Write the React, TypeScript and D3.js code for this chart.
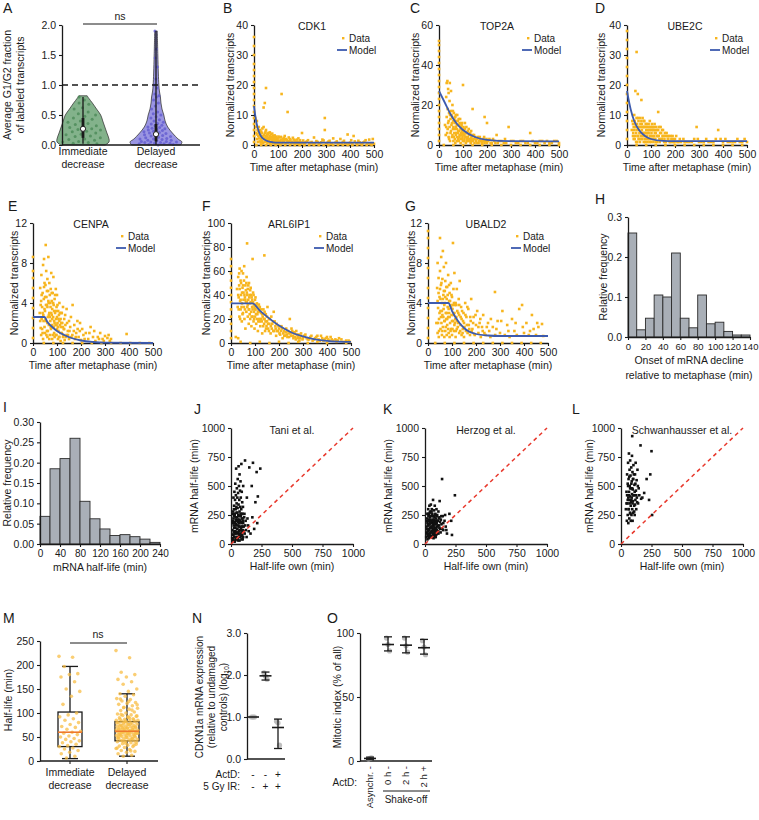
import React, { useEffect, useRef } from "react";
import * as d3 from "d3";

const FONT = "'Liberation Sans', Arial, Helvetica, sans-serif";
const ORANGE = "#f7b51e";
const BLUE = "#3c5aae";
const BAR_GREY = "#a9afb7";
const INK = "#1a1a1a";

const pts = (s: string) =>
  s.trim().split(/\s+/).map((p) => p.split(",").map(Number));

// ---------- A: G1/G2 fraction of labeled transcripts ----------
const violinGroups = ["Immediate decrease", "Delayed decrease"];
const immediateFractions = [0.8, 0.75, 0.7, 0.68, 0.62, 0.6, 0.55, 0.52, 0.5, 0.48, 0.45, 0.43, 0.4, 0.38, 0.36, 0.34, 0.32, 0.3, 0.29, 0.27, 0.26, 0.25, 0.23, 0.22, 0.2, 0.18, 0.17, 0.15, 0.14, 0.12, 0.1, 0.09, 0.08, 0.06, 0.05, 0.04, 0.03, 0.02];
const delayedFractions = [1.9, 1.6, 1.45, 1.3, 1.1, 1.0, 0.95, 0.85, 0.82, 0.8, 0.75, 0.7, 0.65, 0.6, 0.55, 0.52, 0.5, 0.47, 0.45, 0.42, 0.4, 0.38, 0.36, 0.35, 0.33, 0.32, 0.3, 0.29, 0.28, 0.27, 0.26, 0.25, 0.24, 0.23, 0.22, 0.21, 0.2, 0.19, 0.18, 0.17, 0.16, 0.15, 0.14, 0.13, 0.12, 0.11, 0.1, 0.1, 0.09, 0.08, 0.08, 0.07, 0.06, 0.06, 0.05, 0.05, 0.04, 0.04, 0.03, 0.03, 0.02, 0.02, 0.01, 0.01, 0.0];
// violin outlines: [value, relative half-width]
const immediateOutline = [[0, 0.85], [0.05, 1], [0.1, 1], [0.2, 0.92], [0.3, 0.84], [0.4, 0.76], [0.5, 0.68], [0.6, 0.52], [0.7, 0.36], [0.78, 0.22], [0.82, 0.16]];
const delayedOutline = [[0, 0.94], [0.05, 1], [0.1, 0.85], [0.2, 0.63], [0.3, 0.45], [0.4, 0.35], [0.5, 0.3], [0.6, 0.23], [0.7, 0.19], [0.8, 0.17], [0.9, 0.13], [1, 0.11], [1.2, 0.09], [1.5, 0.07], [1.9, 0.05]];
// [min, q1, median, q3, max]
const immediateStats = [0.02, 0.12, 0.27, 0.45, 0.8];
const delayedStats = [0, 0.06, 0.18, 0.35, 1.9];

// ---------- B-G: transcripts after metaphase ----------
const timeTicks = [0, 100, 200, 300, 400, 500];
const geneNames = ["CDK1", "TOP2A", "UBE2C", "CENPA", "ARL6IP1", "UBALD2"];
const geneYMax = [40, 60, 40, 12, 100, 12];
const geneYTicks = [[0, 10, 20, 30, 40], [0, 20, 40, 60], [0, 10, 20, 30, 40], [0, 4, 8, 12], [0, 20, 40, 60, 80, 100], [0, 4, 8, 12]];

const cdk1Data = pts(`0,1 0,3 0,5 0,7 0,9 0,11 0,13 0,15 0,17 0,19 0,21 0,23 0,25 0,27 0,30 0,33 0,36
5,9 8,6 10,4 12,8 15,5 18,3 20,6 22,4 25,5 28,3 30,4.5 32,2.5 35,5.5 38,3 40,6 40,12.5 42,2 45,4 45,14 48,3 50,5 50,19 52,2 55,3.5 58,2 60,4 62,1.5 65,3 68,2 70,3.5 72,1 75,2.5 78,1.5 80,3 82,1 85,2 88,0.5 90,2.5 92,1.2 95,2 98,0.8 100,1.5 102,2.8 105,2.5 108,1 110,1.5 112,2.7 115,17 118,0.6 120,2 125,1 128,3 130,1.8 135,0.7 140,11 140,1.2 145,2.5 150,2 155,0.5 160,1 165,1.8 170,1.5 175,0.6 180,1 185,2.2 190,1.2 195,0.4 200,0.8 200,4 205,1.5 210,0.5 220,1.2 230,0.4 240,1 250,2.5 255,0.6 260,1.3 270,0.3 280,0.9 290,1.5 295,9 295,5 300,0.5 310,1.1 320,0.3 330,2.2 340,0.8 350,0.4 360,2 370,1 380,0.5 390,3.5 400,0.8 410,0.3 415,3 420,1.2 430,0.4 440,0.9 450,0.5 460,1.1 470,0.3 480,1.8 490,0.6 495,2 500,0.4
10,0 30,0 50,0 70,0 90,0 110,0 130,0 150,0 170,0 190,0 210,0 230,0 250,0 270,0 290,0 310,0 330,0 350,0 370,0 390,0 410,0 430,0 450,0 470,0 490,0
12,2 14,3.5 16,1 18,4.8 22,2.2 24,1.2 26,3.2 28,0.8 30,2 32,4 34,1.4 36,2.6 38,0.6 42,3.4 44,1 46,2.2 48,4.4 52,1.2 54,2.8 56,0.6 58,3.6 62,2.4 64,1 66,4.2 68,0.4 72,2.6 74,1.8 76,3.8 78,0.6 82,2.4 84,1.2 86,3.2 88,1.6 92,2.8 94,0.4 96,1.6 98,2.2 104,1.2 106,0.4 114,1.8 116,0.8 122,1.4 124,2.4 132,0.6 134,2 138,1.6 142,0.8 148,1.2 152,1.6 158,0.8 162,2.4 168,0.6 172,1 178,1.8 182,0.4 188,0.8 192,1.6 198,0.6 215,0.9 225,1.6 235,0.7 245,0.3 265,1 275,0.5 285,1.8 305,0.7 315,1.4 325,0.5 345,1.2 355,0.6 365,0.4 375,1.4 385,0.6 395,0.3 405,1.6 425,0.6 435,1.4 445,0.3 455,0.8 465,1.6 475,0.6 485,0.3`);
const cdk1Model = [[0, 13], [10, 7.5], [20, 4.5], [30, 2.8], [40, 2], [60, 1.2], [80, 0.9], [100, 0.8], [500, 0.8]];

const top2aData = pts(`0,2 0,5 0,8 0,11 0,14 0,17 0,20 0,23 0,26 0,29 0,32 0,35 0,38 0,41 0,44 0,47 0,50 0,52
25,10 28,5 30,24 32,31 35,32 36,8 38,28 40,26 40,12 42,3 44,22 45,31 46,15 48,6 50,27 50,17 52,10 54,4 55,14 56,20 58,8 60,12 60,2 62,16 64,6 65,11 66,3 68,14 70,9 70,5 72,12 74,2 75,8 76,15 78,6 80,10 80,3 82,13 84,7 85,4 86,11 88,5 90,8 90,1 92,6 94,10 95,3 96,7 98,4 100,30 100,6 102,9 105,2 106,5 108,8 110,4 112,1 115,6 118,3 120,7 122,2 125,5 128,3 130,6 132,1 135,4 138,2 140,18 140,5 145,3 148,1 150,4 155,2 160,3 165,1 170,4 175,2 180,1 185,3 190,14 190,1 195,2 200,11 200,1 210,3 220,1 230,2 240,5 245,1 260,2 280,1 290,9 300,2 320,1 340,2 360,1 380,6 390,2 400,1 420,2 440,1 460,1 480,2 500,1
20,0 60,0 100,0 140,0 180,0 220,0 260,0 300,0 340,0 380,0 420,0 460,0 500,0
30,9 32,14 34,6 36,18 38,11 40,4 42,16 44,9 46,2 48,13 50,7 52,15 54,11 56,5 58,17 60,9 62,4 64,13 66,8 68,1 70,15 72,6 74,10 76,4 78,12 80,7 82,2 84,10 86,5 88,13 90,3 92,9 94,5 96,11 98,7 100,2 102,5 104,8 106,3 108,11 110,6 112,4 114,9 116,2 118,6 120,4 124,8 126,3 130,2 134,7 136,3 142,2 146,5 152,3 158,1 162,4 168,2 172,3 178,1 182,2 188,4 192,2 198,3 205,2 215,1 225,3 235,1 250,2 270,1 275,3 310,2 330,1 350,2 370,1 410,1 430,2 450,2 470,1 490,2`);
const top2aModel = [[0, 27], [25, 21], [50, 15], [75, 10.5], [100, 7.5], [150, 4], [200, 2.6], [300, 1.9], [500, 1.8]];

const ube2cData = pts(`0,2 0,5 0,8 0,11 0,14 0,17 0,20 0,23 0,26 0,29 0,32 0,35 0,38
20,5 22,8 25,3 28,6 30,10 32,2 35,18 35,7 38,4 40,31 40,9 42,1 44,6 45,17 46,3 48,8 50,5 52,2 54,9 55,4 58,6 60,15 60,2 62,7 64,4 65,9 68,3 70,6 70,1 72,8 74,4 75,2 78,7 80,5 82,3 84,6 85,1 88,4 90,7 92,2 94,5 95,8 98,3 100,5 100,1 102,4 105,6 108,2 110,5 112,3 115,7 118,2 120,4 122,6 125,1 128,3 130,11 130,5 135,2 138,4 140,6 145,2 148,3 150,5 155,1 160,3 165,4 170,2 175,3 180,1 185,2 190,3 195,1 200,2 210,1 220,2 240,1 260,1 280,2 290,6 295,2 300,1 320,1 340,1 360,1 380,5 390,2 400,1 420,1 440,1 460,2 480,1 500,1
40,0 80,0 120,0 160,0 200,0 240,0 280,0 320,0 360,0 400,0 440,0 480,0
25,7 26,4 28,2 30,5 32,8 34,3 36,6 38,1 40,5 42,7 44,3 46,9 48,2 50,6 52,4 54,1 56,7 58,3 60,8 62,5 64,2 66,6 68,4 70,8 72,3 74,6 76,1 78,4 80,2 82,7 84,3 86,5 88,2 90,4 92,6 94,1 96,3 98,6 102,2 104,7 106,3 108,5 110,1 112,6 114,2 116,4 118,5 120,1 124,3 126,5 132,3 134,6 136,1 142,4 144,2 146,5 152,3 156,2 158,4 162,1 168,3 172,2 178,1 182,3 188,1 192,2 198,1 205,3 215,1 225,1 235,2 250,1 270,1 310,1 330,2 350,1 370,2 410,2 430,1 450,1 470,1 490,2`);
const ube2cModel = [[0, 18], [15, 12], [30, 8], [50, 5], [75, 3], [100, 2], [150, 1.4], [200, 1.3], [500, 1.3]];

const cenpaData = pts(`0,0.5 0,1.5 0,2.5 0,3.5 0,4.5 0,5.5 0,6.5 0,7.2 0,8.6
28,3 30,5.5 32,1.5 34,4.2 35,6.8 36,2.4 38,3.6 40,5 40,1 42,7.8 43,2.8 45,4.4 46,8.4 48,6 48,1.6 50,3.2 52,5.8 53,9.8 54,2.2 55,7.2 56,4.6 58,1.2 58,3.8 60,6.4 60,0.6 62,2.6 63,5.2 64,8.6 65,4 66,1.8 68,3 68,6 70,0.8 70,4.8 72,2.2 73,3.6 74,5.4 75,1.4 76,7 78,2.8 78,4.2 80,0.4 80,3.4 82,5 83,1.6 84,2.6 85,6.6 86,3.8 88,1 88,2.2 90,4.4 90,0.6 92,3 94,1.8 95,5.4 96,2.4 98,0.8 98,3.6 100,1.4 100,4.8 102,2 104,0.4 105,3.2 106,1.2 108,2.8 110,0.6 110,4 112,1.8 115,2.4 115,0.2 118,3 120,1 122,2 125,0.6 125,3.6 128,1.4 130,2.4 132,0.3 135,1.8 140,3.4 140,0.8 145,1.2 150,2.2 150,0.4 155,1.6 160,0.6 165,3.8 170,1.2 175,0.4 180,1 185,2.2 190,0.6 195,1.2 200,0.3 205,1.4 210,0.8 220,1 230,0.4 240,1.6 250,0.6 260,0.2 270,0.6 280,1 290,0.4 300,0.7 310,0.5 320,0.2 390,0.9
45,0 85,0 125,0 165,0 205,0 245,0 285,0 325,0 365,0 405,0 445,0 485,0
30,2.2 32,3.8 34,0.8 36,4.8 38,1.4 40,3 42,0.4 44,2.2 46,5.6 48,3.4 50,1 50,4.6 52,2.4 54,3.8 56,0.8 58,5.2 60,2 60,3.6 62,1.2 64,4.2 66,2.8 68,0.4 70,2.6 72,4 74,1.6 76,3 78,5 80,1.8 80,2.4 82,0.8 84,4 86,1.6 88,3.2 90,2 92,4.8 94,0.8 96,3.2 98,1.8 100,2.6 102,3.8 104,1.6 106,2.4 108,0.6 110,2.2 112,3 114,1 116,1.6 118,2 120,3 124,1.6 126,0.8 130,1.4 134,2.8 136,0.6 142,2 146,0.8 152,1.2 158,2.6 164,0.8 172,1.8 178,0.6 186,1.4 196,2 215,0.4 235,1 255,1.2 275,0.4 295,0.2 315,0.8 325,0.4`);
const cenpaModel = [[0, 2.6], [48, 2.6], [60, 2.1], [80, 1.6], [100, 1.2], [130, 0.8], [160, 0.5], [200, 0.25], [250, 0.1], [300, 0.03], [500, 0]];

const arl6ip1Data = pts(`0,4 0,10 0,16 0,22 0,28 0,34 0,40 0,46 0,52 0,58 0,64 0,70
20,5 25,45 28,30 30,55 30,4 32,38 34,48 35,22 36,62 38,35 40,52 40,28 42,40 44,60 45,18 46,33 48,46 50,25 50,58 52,42 54,30 55,64 56,20 58,38 60,48 60,12 62,34 64,26 65,55 66,42 67,83 68,30 70,22 70,45 72,36 74,16 75,50 76,28 78,40 80,20 80,33 82,46 84,26 85,14 86,38 88,30 90,70 90,22 92,42 94,18 95,32 96,26 98,12 100,36 100,22 102,28 105,16 108,33 110,24 112,10 115,28 118,20 120,30 122,14 125,25 128,18 130,8 132,22 135,28 138,16 139,73 140,20 142,10 145,24 148,14 150,18 152,30 155,12 158,20 160,16 165,8 168,22 170,12 175,18 178,26 180,10 185,14 188,6 190,16 195,10 200,12 205,7 210,14 215,4 220,10 225,6 230,12 235,5 240,8 245,20 250,6 255,10 260,4 265,8 270,3 275,7 280,5 285,2 290,6 300,4 310,7 320,3 330,5 340,2 350,4 360,6 370,2 380,4 390,3 400,5 410,2 420,3 440,2 450,4 470,1 490,2
40,1 80,0 120,1 160,0 200,1 240,0 280,1 320,0 360,1 400,0 440,1 480,0
30,40 32,28 34,58 36,45 38,20 40,36 42,50 44,30 46,42 48,24 50,48 52,36 54,52 56,40 58,28 60,36 62,44 64,50 66,34 68,40 70,32 72,48 74,28 76,38 78,24 80,44 82,34 84,40 86,22 88,36 90,28 92,34 94,40 96,20 98,30 100,28 102,38 104,24 106,32 108,20 110,30 112,26 114,18 116,32 118,26 120,18 124,20 126,28 130,24 134,14 136,20 140,26 144,18 146,12 150,22 154,16 158,10 162,20 166,14 172,16 176,10 182,18 186,12 192,10 198,14 202,8 208,10 212,12 218,8 222,6 228,9 232,7 238,10 242,5 248,8 252,12 258,6 262,9 268,5 272,10 278,4 282,7 288,4 292,8 298,3 305,6 315,4 325,3 335,6 345,3 355,5 365,3 375,6 385,2 395,4 405,3 415,5 425,2 435,3 445,2 460,3 480,2 495,1`);
const arl6ip1Model = [[0, 33], [90, 33], [120, 27], [150, 22], [200, 14.5], [250, 9], [300, 5.5], [350, 3], [400, 1.8], [450, 1.2], [500, 1]];

const ubald2Data = pts(`0,0.5 0,1.5 0,2.5 0,3.5 0,4.5 0,5.5 0,6.5 0,7.5 0,8.5 0,9.5 0,10.5 0,11.2
35,2 38,5.5 40,1 40,8 42,3.5 44,6.5 45,0.6 46,2.4 48,4.6 50,10.5 50,7.2 52,1.4 52,3.2 54,5.8 55,8.6 56,2 58,4 58,0.8 60,6.4 60,2.8 62,9.2 62,1.6 64,4.8 65,3.4 66,7.6 68,0.6 68,2.2 70,5.2 70,4 72,1.2 72,6.2 74,3 75,8 76,2.4 78,4.4 78,0.8 80,5.6 80,1.8 82,3.6 84,6.8 84,2.6 86,1 88,4.2 88,3 90,5 90,0.6 92,2 94,3.8 95,6 96,1.4 98,2.8 100,4.6 100,0.8 102,3.4 104,10 105,2.2 106,5.4 108,1.2 110,3 110,7 112,2 115,4 115,0.6 118,2.6 120,5.4 120,1.4 122,3.2 125,2 128,4.4 130,1 130,2.8 132,6.2 135,1.8 138,3.6 140,0.8 140,2.4 145,1.4 148,3 150,2 150,0.6 155,4 158,1.2 160,2.6 165,1 168,3.4 170,1.8 175,0.8 178,2.2 180,4.4 185,1.4 190,2.6 195,0.8 200,1.8 205,3.2 210,1 215,2 220,0.6 225,1.6 230,2.8 235,1 240,0.8 250,2 255,1.2 260,0.6 270,1.6 279,5.1 280,0.8 290,2.2 300,1 310,3.2 320,0.8 330,1.8 340,0.6 350,2.4 360,1.2 370,0.8 380,3.4 392,3.8 400,1 410,2 420,0.8 433,2.8 440,1.4 450,0.8 460,1.6 475,1.9 480,0.7
30,0 70,0 110,0 150,0 190,0 230,0 270,0 310,0 350,0 390,0 430,0 470,0
40,4.2 42,2 44,5 46,1.2 48,3 50,5.4 52,4.4 54,2.6 56,6 58,3.2 60,1.2 62,4.4 64,2.6 66,5.2 68,3.8 70,2.2 72,4.6 74,1.6 76,5.6 78,3 80,2.4 82,4.8 84,1.4 86,3.4 88,5.8 90,2.6 92,4.2 94,1.2 96,3.6 98,4.8 100,2.2 102,1.4 104,3.8 106,2.8 108,4 110,1.8 112,3.8 114,2.4 116,1.2 118,3.8 120,2.2 124,1.6 126,3 130,3.8 134,1.2 136,2.6 142,3.2 144,1 146,2.2 152,1.6 156,2.8 162,1.8 164,3.6 172,1.4 176,2.6 182,1.2 188,2 192,0.9 198,2.8 210,1.6 218,2.4 228,1.2 245,1.6 262,2.4 285,1.4 305,2.2 335,1.2 365,2 395,1.6 425,1.2 455,2`);
const ubald2Model = [[0, 4], [85, 4], [100, 3.2], [125, 2.2], [150, 1.5], [200, 0.9], [250, 0.75], [300, 0.7], [500, 0.7]];

const geneData = [cdk1Data, top2aData, ube2cData, cenpaData, arl6ip1Data, ubald2Data];
const geneModels = [cdk1Model, top2aModel, ube2cModel, cenpaModel, arl6ip1Model, ubald2Model];

// ---------- H, I: histograms ----------
const onsetFreq = [0.26, 0.018, 0.047, 0.105, 0.1, 0.21, 0.047, 0.023, 0.105, 0.033, 0.037, 0.014, 0.005, 0.005];
const onsetTicks = [0, 20, 40, 60, 80, 100, 120, 140];
const halfLifeFreq = [0.068, 0.185, 0.21, 0.26, 0.105, 0.062, 0.037, 0.021, 0.023, 0.018, 0.012, 0.004];
const halfLifeTicks = [0, 40, 80, 120, 160, 200, 240];

// ---------- J-L: own half-life vs published ----------
const studyNames = ["Tani et al.", "Herzog et al.", "Schwanhausser et al."];
const compareTicks = [0, 250, 500, 750, 1000];
const taniData = pts(`10,50 12,120 15,200 15,30 18,280 20,80 20,400 22,160 24,240 25,60 25,330 28,110 28,450 30,180 30,20 32,260 33,380 35,90 35,520 36,140 38,300 40,210 40,40 40,420 42,650 44,170 45,270 45,100 46,350 48,480 50,60 50,230 52,130 52,400 54,310 55,560 56,190 58,90 58,440 60,250 60,30 62,670 62,340 64,150 65,500 66,210 68,80 68,380 70,280 70,600 72,120 74,460 75,200 76,320 78,60 78,540 80,240 80,400 82,140 84,300 85,690 86,180 88,100 88,450 90,260 92,360 94,150 95,220 96,40 98,320 100,180 100,500 105,110 110,260 115,720 120,200 130,400 140,160 150,660 160,90 170,500 175,230 180,700 190,130 200,360 210,620 215,180 220,410 240,650
12,80 14,180 16,260 18,40 20,220 22,100 24,300 26,140 28,60 30,250 32,190 34,30 36,110 38,230 40,160 42,90 44,320 46,60 48,200 50,130 52,270 54,40 56,100 58,210 60,160 62,60 64,240 66,110 68,180 70,30 72,200 74,90 76,150 78,260 80,70 82,190 84,120 86,40 88,220 90,150 92,80 94,260 96,120 98,200 100,60 104,150 108,230 112,90 116,160 122,120 128,60 135,220 145,110`);
const herzogData = pts(`10,60 12,150 15,100 18,220 20,40 20,180 22,120 24,260 25,80 26,300 28,160 30,50 30,210 32,130 34,250 35,90 36,330 38,170 40,60 40,230 42,140 44,280 45,100 46,190 48,340 50,70 50,240 52,150 54,200 55,110 56,300 58,180 60,60 60,260 62,130 64,210 65,90 66,380 68,160 70,240 70,50 72,120 74,290 75,190 76,80 78,230 80,140 80,330 82,200 84,100 85,260 86,170 88,60 90,220 92,130 94,300 95,180 98,90 100,250 100,150 105,200 108,110 110,280 115,160 118,230 120,370 125,130 130,210 135,170 140,560 145,240 150,120 160,200 170,150 180,90 200,260 215,200 221,78 245,420
14,90 16,200 18,130 20,260 22,70 24,160 26,110 28,240 30,170 32,80 34,200 36,120 38,270 40,180 42,90 44,210 46,140 48,60 50,190 52,100 54,280 56,150 58,60 60,200 62,110 64,170 66,240 68,80 70,150 72,210 74,100 76,180 78,130 80,60 82,250 84,170 86,110 88,200 90,140 92,80 94,180 96,240 98,120 102,200 106,160 110,90 114,220 118,140 124,190 128,100 134,240 142,130 150,180 165,250 175,120`);
const schwanData = pts(`40,300 45,450 48,200 50,600 52,350 55,520 55,250 58,700 60,400 60,180 62,560 64,300 65,780 66,450 68,220 70,640 70,350 72,500 74,270 75,720 76,410 78,590 80,330 80,200 82,480 84,660 85,380 86,250 88,540 90,430 90,760 92,300 92,930 94,620 95,200 96,470 98,370 100,560 100,270 102,680 105,420 108,330 110,510 112,250 115,600 118,380 120,700 122,460 125,300 128,550 130,400 135,640 140,350 145,480 150,420 160,850 165,390 175,400 190,440 210,560 230,380 240,600 250,800 255,250
45,350 50,420 55,380 58,500 62,300 65,420 68,580 72,380 75,480 78,260 82,360 85,520 88,400 92,480 95,350 98,560 102,420 105,600 108,280 112,450 115,340 118,520 125,420 132,360 138,500`);
const compareData = [taniData, herzogData, schwanData];

// ---------- M: half-life per group ----------
const immediateHalfLife = [218, 216, 197, 182, 180, 175, 165, 150, 145, 135, 118, 100, 96, 92, 88, 85, 80, 76, 72, 70, 66, 62, 60, 58, 55, 52, 50, 47, 45, 42, 40, 38, 35, 32, 30, 27, 25, 22, 18, 15, 10, 6];
const delayedHalfLife = [230, 215, 185, 180, 175, 170, 165, 160, 150, 145, 140, 138, 135, 130, 128, 125, 122, 120, 118, 115, 112, 110, 108, 105, 102, 100, 98, 96, 95, 93, 92, 90, 88, 87, 85, 84, 83, 82, 81, 80, 79, 78, 77, 76, 75, 74, 73, 72, 71, 70, 69, 68, 67, 66, 65, 64, 63, 62, 62, 61, 60, 60, 59, 58, 57, 56, 55, 54, 53, 52, 51, 50, 49, 48, 47, 46, 45, 44, 43, 42, 41, 40, 38, 36, 35, 33, 31, 30, 28, 26, 24, 22, 20, 18, 15, 12, 10,
  94, 91, 87, 86, 83, 79, 77, 74, 71, 69, 66, 64, 61, 58, 57, 54, 52, 49, 47, 44, 41, 39, 76, 73, 70, 68, 65, 63, 59, 56, 53, 50, 106, 111, 117, 124, 129, 33, 37, 27, 21, 67, 62, 58, 55, 48, 81, 85, 89, 97];
// [min, q1, median, q3, max]
const immediateBox = [5, 30, 60, 102, 197];
const delayedBox = [10, 42, 62, 82, 140];

// ---------- N: CDKN1a ----------
const cdknConditions = ["ctrl", "IR", "IR+ActD"];
const cdknActD = ["-", "-", "+"];
const cdknIR = ["-", "+", "+"];
const cdknMean = [1.0, 1.98, 0.75];
const cdknLow = [1.0, 1.88, 0.25];
const cdknHigh = [1.0, 2.07, 0.95];
const cdknReplicates = [[1, 1, 1], [2.05, 1.97, 1.9], [0.9, 0.86, 0.33]];

// ---------- O: mitotic index ----------
const mitoticGroups = ["Asynchr. -", "0 h -", "2 h -", "2 h +"];
const mitoticMean = [2, 91, 90.5, 88.5];
const mitoticLow = [1, 86, 84.5, 83.5];
const mitoticHigh = [3, 97, 97, 95];
const mitoticReplicates = [[1.5, 2, 2.5], [96, 91, 86], [96, 90, 85], [94, 89, 83]];

// ---------------------------------------------------------------
function txt(g: any, x: number, y: number, s: string, size = 10.5, anchor = "start") {
  return g.append("text").attr("x", x).attr("y", y).attr("font-size", size)
    .attr("text-anchor", anchor).attr("fill", INK).text(s);
}
function vtxt(g: any, cx: number, cy: number, s: string, size = 10.5) {
  return g.append("text").attr("transform", `translate(${cx},${cy}) rotate(-90)`)
    .attr("text-anchor", "middle").attr("dy", "0.35em").attr("font-size", size)
    .attr("fill", INK).text(s);
}
function letter(g: any, x: number, y: number, s: string) {
  txt(g, x, y, s, 14);
}
function styleAxis(a: any, size = 10.5) {
  a.attr("font-family", FONT).attr("font-size", size);
  a.selectAll("text").attr("fill", INK);
  a.select(".domain").attr("stroke", INK).attr("stroke-width", 1.3);
  a.selectAll(".tick line").attr("stroke", INK).attr("stroke-width", 1.1);
  return a;
}
function hline(g: any, x1: number, x2: number, y: number, w = 1.3, color = INK) {
  g.append("line").attr("x1", x1).attr("x2", x2).attr("y1", y).attr("y2", y)
    .attr("stroke", color).attr("stroke-width", w);
}
function vline(g: any, x: number, y1: number, y2: number, w = 1.3, color = INK) {
  g.append("line").attr("x1", x).attr("x2", x).attr("y1", y1).attr("y2", y2)
    .attr("stroke", color).attr("stroke-width", w);
}
const jitter = (i: number) => ((i * 0.618034) % 1) - 0.5;

function panelA(svg: any) {
  const g = svg.append("g");
  const y = d3.scaleLinear().domain([0, 2]).range([145, 25]);
  const cx = d3.scalePoint().domain(violinGroups).range([83, 156]);
  const halfW = d3.scaleLinear().domain([0, 1]).range([0, 26]);
  letter(g, 3, 13, "A");

  const sets = [
    { name: violinGroups[0], vals: immediateFractions, outline: immediateOutline, stats: immediateStats, fill: "#83b28b", dot: "#4b8a57" },
    { name: violinGroups[1], vals: delayedFractions, outline: delayedOutline, stats: delayedStats, fill: "#9a95e2", dot: "#625bcf" },
  ];
  sets.forEach((s) => {
    const c = cx(s.name) as number;
    const area = d3.area<any>().y((d) => y(d[0])).x0((d) => c - halfW(d[1])).x1((d) => c + halfW(d[1]))
      .curve(d3.curveCatmullRom);
    g.append("path").attr("d", area(s.outline)).attr("fill", s.fill).attr("stroke", "#3b3b3b").attr("stroke-width", 0.8);
    const wAt = d3.scaleLinear().domain(s.outline.map((d) => d[0])).range(s.outline.map((d) => d[1])).clamp(true);
    s.vals.forEach((v, i) => {
      g.append("circle").attr("cx", c + jitter(i) * 1.6 * halfW(wAt(v))).attr("cy", y(v)).attr("r", 1.5)
        .attr("fill", s.dot).attr("opacity", 0.8);
    });
    const [mn, q1, md, q3, mx] = s.stats;
    vline(g, c, y(mn), y(mx), 1.3);
    vline(g, c, y(q1), y(q3), 2.8);
    g.append("circle").attr("cx", c).attr("cy", y(md)).attr("r", 2.6).attr("fill", "#fff").attr("stroke", INK).attr("stroke-width", 1);
  });

  g.append("line").attr("x1", 62).attr("x2", 200).attr("y1", y(1)).attr("y2", y(1))
    .attr("stroke", INK).attr("stroke-width", 1.4).attr("stroke-dasharray", "6,4");
  styleAxis(g.append("g").attr("transform", "translate(62,0)")
    .call(d3.axisLeft(y).tickValues([0, 0.5, 1, 1.5, 2]).tickFormat(d3.format(".1f")).tickSize(3).tickSizeOuter(0).tickPadding(3)));
  hline(g, 62, 200, 145);
  violinGroups.forEach((name) => {
    const [a, b] = name.split(" ");
    txt(g, cx(name) as number, 155, a, 10.5, "middle");
    txt(g, cx(name) as number, 168, b, 10.5, "middle");
  });
  hline(g, 83, 157, 24, 1);
  txt(g, 120, 20, "ns", 10.5, "middle");
  vtxt(g, 7, 85, "Average G1/G2 fraction");
  vtxt(g, 20, 85, "of labeled transcripts");
}

const scatterLayout = [
  { letter: "B", lx: 223, x0: 254, bottom: 145, ylab: 230 },
  { letter: "C", lx: 410, x0: 439, bottom: 145, ylab: 415 },
  { letter: "D", lx: 595, x0: 627, bottom: 145, ylab: 601 },
  { letter: "E", lx: 8, x0: 33, bottom: 343, ylab: 14 },
  { letter: "F", lx: 202, x0: 231, bottom: 343, ylab: 206 },
  { letter: "G", lx: 405, x0: 428, bottom: 343, ylab: 411 },
];

function scatterPanel(svg: any, k: number) {
  const L = scatterLayout[k];
  const g = svg.append("g");
  const top = L.bottom - 120;
  const x = d3.scaleLinear().domain([0, 500]).range([L.x0, L.x0 + 120]);
  const y = d3.scaleLinear().domain([0, geneYMax[k]]).range([L.bottom, top]);
  letter(g, L.lx, L.bottom - 132, L.letter);

  styleAxis(g.append("g").attr("transform", `translate(0,${L.bottom})`)
    .call(d3.axisBottom(x).tickValues(timeTicks).tickSize(3).tickSizeOuter(0).tickPadding(3)));
  styleAxis(g.append("g").attr("transform", `translate(${L.x0},0)`)
    .call(d3.axisLeft(y).tickValues(geneYTicks[k]).tickSize(3).tickSizeOuter(0).tickPadding(3)));

  g.append("g").selectAll("rect").data(geneData[k]).join("rect")
    .attr("x", (d: any) => x(d[0]) - 1.3).attr("y", (d: any) => y(d[1]) - 1.3)
    .attr("width", 2.6).attr("height", 2.6).attr("fill", ORANGE);

  const line = d3.line<any>().x((d) => x(d[0])).y((d) => y(d[1])).curve(d3.curveMonotoneX);
  g.append("path").attr("d", line(geneModels[k])).attr("fill", "none").attr("stroke", BLUE).attr("stroke-width", 1.8);

  txt(g, L.x0 + 58, top + 5, geneNames[k], 10.5, "middle");
  g.append("rect").attr("x", L.x0 + 88).attr("y", top + 12).attr("width", 2.4).attr("height", 2.4).attr("fill", ORANGE);
  txt(g, L.x0 + 95, top + 17, "Data", 10);
  hline(g, L.x0 + 83, L.x0 + 93, top + 25, 1.8, BLUE);
  txt(g, L.x0 + 95, top + 29, "Model", 10);

  txt(g, L.x0 + 60, L.bottom + 26, "Time after metaphase (min)", 10.5, "middle");
  vtxt(g, L.ylab, L.bottom - 60, "Normalized transcripts");
}

function histPanel(svg: any, cfg: any) {
  const g = svg.append("g");
  const x = d3.scaleLinear().domain([0, cfg.xMax]).range([cfg.x0, cfg.x1]);
  const y = d3.scaleLinear().domain([0, 0.3]).range([cfg.bottom, cfg.top]);
  letter(g, cfg.lx, cfg.ly, cfg.letter);
  g.append("g").selectAll("rect").data(cfg.values).join("rect")
    .attr("x", (_: any, i: number) => x(i * cfg.bin)).attr("width", x(cfg.bin) - x(0))
    .attr("y", (d: number) => y(d)).attr("height", (d: number) => cfg.bottom - y(d))
    .attr("fill", BAR_GREY).attr("stroke", "#2b2b2b").attr("stroke-width", 0.9);
  styleAxis(g.append("g").attr("transform", `translate(0,${cfg.bottom})`)
    .call(d3.axisBottom(x).tickValues(cfg.xTicks).tickSize(3).tickSizeOuter(0).tickPadding(3)), cfg.xTickSize);
  styleAxis(g.append("g").attr("transform", `translate(${cfg.x0},0)`)
    .call(d3.axisLeft(y).tickValues(cfg.yTicks).tickFormat(d3.format(cfg.fmt)).tickSize(3).tickSizeOuter(0).tickPadding(3)));
  cfg.xLabel.forEach((s: string, i: number) => txt(g, (cfg.x0 + cfg.x1) / 2, cfg.bottom + 27 + i * 15, s, 10.5, "middle"));
  vtxt(g, cfg.ylab, (cfg.top + cfg.bottom) / 2, "Relative frequency");
}

const compareLayout = [
  { letter: "J", lx: 194, x0: 231 },
  { letter: "K", lx: 383, x0: 425 },
  { letter: "L", lx: 572, x0: 621 },
];

function comparePanel(svg: any, k: number) {
  const L = compareLayout[k];
  const g = svg.append("g");
  const x = d3.scaleLinear().domain([0, 1000]).range([L.x0, L.x0 + 122]);
  const y = d3.scaleLinear().domain([0, 1000]).range([544, 428]);
  letter(g, L.lx, 414, L.letter);
  styleAxis(g.append("g").attr("transform", "translate(0,544)")
    .call(d3.axisBottom(x).tickValues(compareTicks).tickFormat(d3.format("d")).tickSize(3).tickSizeOuter(0).tickPadding(3)));
  styleAxis(g.append("g").attr("transform", `translate(${L.x0},0)`)
    .call(d3.axisLeft(y).tickValues(compareTicks).tickFormat(d3.format("d")).tickSize(3).tickSizeOuter(0).tickPadding(3)));
  g.append("g").selectAll("rect").data(compareData[k]).join("rect")
    .attr("x", (d: any) => x(d[0]) - 1.3).attr("y", (d: any) => y(d[1]) - 1.3)
    .attr("width", 2.6).attr("height", 2.6).attr("fill", "#111");
  g.append("line").attr("x1", x(0)).attr("y1", y(0)).attr("x2", x(1000)).attr("y2", y(1000))
    .attr("stroke", "#e8382c").attr("stroke-width", 1.5).attr("stroke-dasharray", "4,3.5");
  txt(g, L.x0 + 61, 434, studyNames[k], 10.5, "middle");
  txt(g, L.x0 + 61, 570, "Half-life own (min)", 10.5, "middle");
  vtxt(g, L.x0 - (k === 2 ? 32 : 37), 486, "mRNA half-life (min)");
}

function panelM(svg: any) {
  const g = svg.append("g");
  const y = d3.scaleLinear().domain([0, 250]).range([761, 641]);
  const x = d3.scalePoint().domain(violinGroups).range([70, 127]);
  letter(g, 3, 623, "M");
  styleAxis(g.append("g").attr("transform", "translate(40,0)")
    .call(d3.axisLeft(y).tickValues([0, 50, 100, 150, 200, 250]).tickSize(3).tickSizeOuter(0).tickPadding(3)));
  hline(g, 40, 158, 761);
  const sets = [
    { name: violinGroups[0], box: immediateBox, vals: immediateHalfLife },
    { name: violinGroups[1], box: delayedBox, vals: delayedHalfLife },
  ];
  sets.forEach((s) => {
    const c = x(s.name) as number;
    const [mn, q1, md, q3, mx] = s.box;
    vline(g, c, y(mx), y(q3), 1.3);
    vline(g, c, y(q1), y(mn), 1.3);
    hline(g, c - 8, c + 8, y(mx), 1.3);
    hline(g, c - 8, c + 8, y(mn), 1.3);
    g.append("rect").attr("x", c - 12).attr("width", 24).attr("y", y(q3)).attr("height", y(q1) - y(q3))
      .attr("fill", "#fff").attr("stroke", INK).attr("stroke-width", 1.3);
    s.vals.forEach((v, i) => {
      g.append("circle").attr("cx", c + jitter(i) * 22).attr("cy", y(v)).attr("r", 1.8)
        .attr("fill", "#f8bd45").attr("opacity", 0.75);
    });
    hline(g, c - 12, c + 12, y(md), 1.6, "#ee7a2c");
    vline(g, c, 761, 764, 1.1);
    const [a, b] = s.name.split(" ");
    txt(g, c, 776, a, 10.5, "middle");
    txt(g, c, 789, b, 10.5, "middle");
  });
  hline(g, 70, 127, 643, 1);
  txt(g, 98, 638, "ns", 10.5, "middle");
  vtxt(g, 8, 700, "Half-life (min)");
}

function errorGroup(g: any, cx: number, y: any, mean: number, lo: number, hi: number, reps: number[]) {
  reps.forEach((r, i) => {
    g.append("circle").attr("cx", cx + (i - 1) * 1.5).attr("cy", y(r)).attr("r", 2.6).attr("fill", "#b3b3b3").attr("opacity", 0.85);
  });
  if (hi > lo) {
    vline(g, cx, y(hi), y(lo), 1.3);
    hline(g, cx - 4, cx + 4, y(hi), 1.3);
    hline(g, cx - 4, cx + 4, y(lo), 1.3);
  }
  hline(g, cx - 6, cx + 6, y(mean), 1.6);
}

function panelN(svg: any) {
  const g = svg.append("g");
  const y = d3.scaleLinear().domain([0, 3]).range([759, 633]);
  const x = d3.scalePoint().domain(cdknConditions).range([253, 278]);
  letter(g, 192, 623, "N");
  styleAxis(g.append("g").attr("transform", "translate(247,0)")
    .call(d3.axisLeft(y).tickValues([0, 1, 2, 3]).tickSize(3).tickSizeOuter(0).tickPadding(3)));
  hline(g, 247, 285, 759);
  cdknConditions.forEach((c, i) => {
    errorGroup(g, x(c) as number, y, cdknMean[i], cdknLow[i], cdknHigh[i], cdknReplicates[i]);
    txt(g, x(c) as number, 778, cdknActD[i], 10, "middle");
    txt(g, x(c) as number, 790, cdknIR[i], 10, "middle");
  });
  txt(g, 240, 778, "ActD:", 10, "end");
  txt(g, 240, 790, "5 Gy IR:", 10, "end");
  vtxt(g, 199, 697, "CDKN1a mRNA expression", 10);
  vtxt(g, 211, 697, "(relative to undamaged", 10);
  const t = g.append("text").attr("transform", "translate(223,697) rotate(-90)").attr("text-anchor", "middle")
    .attr("dy", "0.35em").attr("font-size", 10).attr("fill", INK);
  t.append("tspan").text("controls) (log");
  t.append("tspan").attr("font-size", 6.5).attr("dy", "0.35em").text("10");
  t.append("tspan").attr("dy", "-0.2em").text(")");
}

function panelO(svg: any) {
  const g = svg.append("g");
  const y = d3.scaleLinear().domain([0, 100]).range([761, 633]);
  const x = d3.scalePoint().domain(mitoticGroups).range([370, 424]);
  letter(g, 327, 623, "O");
  styleAxis(g.append("g").attr("transform", "translate(360,0)")
    .call(d3.axisLeft(y).tickValues([0, 50, 100]).tickSize(3).tickSizeOuter(0).tickPadding(3)));
  hline(g, 360, 432, 761);
  mitoticGroups.forEach((c, i) => {
    const cx = x(c) as number;
    errorGroup(g, cx, y, mitoticMean[i], mitoticLow[i], mitoticHigh[i], mitoticReplicates[i]);
    g.append("text").attr("transform", `translate(${cx},766) rotate(-90)`).attr("text-anchor", "end")
      .attr("dy", "0.35em").attr("font-size", 9.5).attr("fill", INK).text(c);
  });
  txt(g, 357, 786, "ActD:", 10, "end");
  hline(g, 383, 430, 791, 1);
  txt(g, 406, 803, "Shake-off", 10, "middle");
  vtxt(g, 337, 697, "Mitotic index (% of all)");
}

function drawFigure(svg: any) {
  panelA(svg);
  geneNames.forEach((_, k) => scatterPanel(svg, k));
  histPanel(svg, {
    letter: "H", lx: 595, ly: 204, values: onsetFreq, bin: 10, xMax: 140, x0: 628, x1: 750,
    bottom: 337, top: 217, xTicks: onsetTicks, yTicks: [0, 0.1, 0.2, 0.3], fmt: ".1f", xTickSize: 9.5,
    xLabel: ["Onset of mRNA decline", "relative to metaphase (min)"], ylab: 603,
  });
  histPanel(svg, {
    letter: "I", lx: 3, ly: 412, values: halfLifeFreq, bin: 20, xMax: 240, x0: 40, x1: 160,
    bottom: 544, top: 422, xTicks: halfLifeTicks, yTicks: [0, 0.05, 0.1, 0.15, 0.2, 0.25, 0.3], fmt: ".2f", xTickSize: 10,
    xLabel: ["mRNA half-life (min)"], ylab: 7,
  });
  studyNames.forEach((_, k) => comparePanel(svg, k));
  panelM(svg);
  panelN(svg);
  panelO(svg);
}

export default function App() {
  const ref = useRef<SVGSVGElement>(null);
  useEffect(() => {
    const svg = d3.select(ref.current);
    svg.selectAll("*").remove();
    drawFigure(svg);
  }, []);
  return (
    <div style={{ position: "absolute", left: 0, top: 0 }}>
      <svg ref={ref} width={759} height={820} fontFamily={FONT} style={{ display: "block", background: "#fff" }} />
    </div>
  );
}
